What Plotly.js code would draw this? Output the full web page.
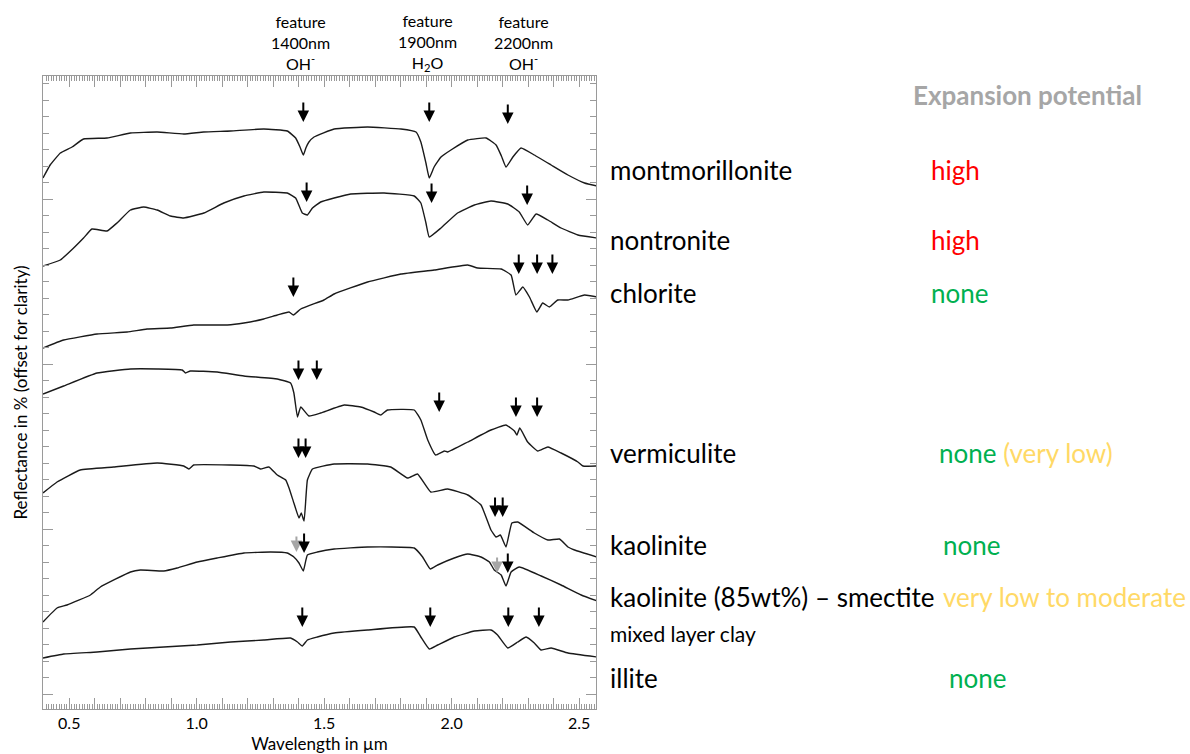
<!DOCTYPE html>
<html>
<head>
<meta charset="utf-8">
<script src="https://cdn.plot.ly/plotly-3.0.1.min.js"></script>
<style>html,body{margin:0;padding:0;background:#fff;}#chart{width:1190px;height:754px;}</style>
</head>
<body>
<div id="chart"></div>
<script>
// ---- Spectra (wavelength in µm, reflectance offset for clarity, arbitrary units) ----
const montWl = [0.397,0.425,0.465,0.511,0.556,0.648,0.740,0.845,0.949,1.027,1.133,1.263,1.355,1.388,1.405,1.418,1.428,1.440,1.460,1.539,1.670,1.801,1.860,1.879,1.899,1.912,1.931,1.958,1.997,2.063,2.135,2.174,2.195,2.213,2.240,2.272,2.324,2.390,2.456,2.521,2.570];
const montY  = [531,544,556,562,570,571,576,577,575,577,578,580,578,571,562,554,561,567,572,580,582,580,577,567,546,531,542,552,559,569,571,564,553,542,552,561,554,544,534,526,523];

const nontWl = [0.397,0.465,0.517,0.556,0.589,0.648,0.687,0.740,0.792,0.845,0.897,0.949,1.028,1.106,1.185,1.263,1.355,1.388,1.414,1.434,1.454,1.486,1.539,1.604,1.735,1.853,1.879,1.899,1.912,1.958,2.023,2.089,2.154,2.220,2.265,2.298,2.331,2.377,2.429,2.495,2.570];
const nontY  = [443,449,461,471,480,478,486,499,502,499,493,491,496,506,513,517,516,511,496,494,501,507,511,515,516,513,506,486,472,481,496,504,508,505,497,484,495,489,481,474,471];

const chlWl = [0.397,0.478,0.609,0.727,0.805,0.897,0.988,1.120,1.185,1.263,1.316,1.362,1.379,1.408,1.499,1.539,1.670,1.801,1.931,2.063,2.102,2.194,2.233,2.252,2.279,2.305,2.334,2.357,2.383,2.416,2.456,2.521,2.570];
const chlY  = [361,369,375,377,380,381,384,384,386,390,394,397,394,400,409,415,427,435,439,444,441,440,434,414,422,412,397,406,402,409,409,414,412];

const vermWl = [0.397,0.478,0.609,0.740,0.845,0.943,0.956,0.975,1.080,1.185,1.316,1.368,1.381,1.395,1.408,1.440,1.486,1.578,1.643,1.696,1.722,1.748,1.853,1.879,1.906,1.937,1.971,1.984,2.063,2.154,2.213,2.246,2.256,2.267,2.298,2.338,2.377,2.429,2.495,2.515,2.570];
const vermY  = [315,323,336,340,340,339,336,338,337,333,330,326,316,292,302,293,296,304,302,297,294,299,299,289,269,254,258,257,267,279,284,278,274,281,267,258,262,256,247,243,243];

const kaolWl = [0.397,0.452,0.543,0.674,0.845,0.949,0.969,0.988,1.133,1.224,1.250,1.283,1.316,1.349,1.362,1.381,1.401,1.410,1.421,1.434,1.454,1.539,1.670,1.761,1.827,1.866,1.918,1.984,2.063,2.115,2.154,2.174,2.191,2.213,2.236,2.259,2.324,2.377,2.423,2.456,2.482,2.570];
const kaolY  = [216,227,239,242,246,243,240,244,244,243,240,242,234,229,221,206,191,196,188,229,240,245,245,242,231,235,217,220,214,204,179,172,174,162,186,187,176,169,170,162,159,152];

const ksWl = [0.397,0.452,0.491,0.583,0.622,0.740,0.779,0.871,0.923,1.002,1.080,1.185,1.290,1.355,1.381,1.401,1.418,1.434,1.473,1.539,1.670,1.853,1.886,1.916,1.945,2.010,2.063,2.115,2.148,2.167,2.194,2.213,2.233,2.265,2.351,2.429,2.508,2.570];
const ksY  = [87,101,104,114,122,137,139,138,141,147,151,156,157,156,152,146,138,154,157,160,162,161,152,140,144,151,155,152,147,139,134,123,137,142,133,124,114,108];

const illWl = [0.397,0.478,0.609,0.740,0.871,1.002,1.133,1.263,1.368,1.395,1.414,1.434,1.473,1.539,1.670,1.853,1.879,1.912,1.945,2.010,2.089,2.154,2.180,2.220,2.259,2.292,2.324,2.351,2.390,2.456,2.570];
const illY  = [51,55,57,60,62,64,67,69,71,67,63,69,72,76,79,82,72,60,64,72,78,79,74,61,67,72,66,59,61,56,52];

// ---- Absorption-feature arrows (tip position) ----
const arrowWl = [1.418,1.912,2.220, 1.431,1.921,2.296, 1.379,2.263,2.335,2.395, 1.399,1.471,1.951,2.252,2.335, 1.399,1.427,2.170,2.200, 1.391,1.421,2.178,2.220, 1.414,1.916,2.222,2.342];
const arrowY  = [587,587,585, 507,506,504, 412,435,435,435, 329,329,297,292,292, 251,251,192,192, 157,156,136,136, 82,82,82,82];
const arrowGrey = [0,0,0, 0,0,0, 0,0,0,0, 0,0,0,0,0, 0,0,0,0, 1,0,1,0, 0,0,0,0];

// ---- Labels ----
const mineralNames = ['montmorillonite','nontronite','chlorite','vermiculite','kaolinite','kaolinite (85wt%) – smectite','illite'];
const mineralLabelY = [539,469,416,256,164,112,31];
const potentialText = [
  '<span style="color:#ff0000">high</span>',
  '<span style="color:#ff0000">high</span>',
  '<span style="color:#00b050">none</span>',
  '<span style="color:#00b050">none</span> <span style="color:#ffd966">(very low)</span>',
  '<span style="color:#00b050">none</span>',
  '<span style="color:#ffd966">very low to moderate</span>',
  '<span style="color:#00b050">none</span>'
];
const potentialX = [1.6022,1.6022,1.6022,1.6166,1.6239,1.6239,1.6347];
const featureLabels = ['feature<br>1400nm<br>OH<sup>-</sup>','feature<br>1900nm<br>H<sub>2</sub>O','feature<br>2200nm<br>OH<sup>-</sup>'];
const featureLabelX = [1.408,1.907,2.280];

const tickVals = [0.4,0.5,0.6,0.7,0.8,0.9,1.0,1.1,1.2,1.3,1.4,1.5,1.6,1.7,1.8,1.9,2.0,2.1,2.2,2.3,2.4,2.5];
const tickText = ['','0.5','','','','','1.0','','','','','1.5','','','','','2.0','','','','','2.5'];

const FONT = 'Lato, "Open Sans", sans-serif';
const spectra = [[montWl,montY],[nontWl,nontY],[chlWl,chlY],[vermWl,vermY],[kaolWl,kaolY],[ksWl,ksY],[illWl,illY]];
const traces = spectra.map((s,i) => ({
  x: s[0], y: s[1], type: 'scatter', mode: 'lines', name: mineralNames[i],
  line: {color: '#1a1a1a', width: 1.4, shape: 'spline', smoothing: 0.35},
  hoverinfo: 'skip', showlegend: false
}));

const annotations = [];
arrowWl.forEach((w,i) => {
  annotations.push({
    x: w, y: arrowY[i], xref: 'x', yref: 'y', text: '', showarrow: true,
    ax: 0, ay: arrowGrey[i] ? -17 : -21, axref: 'pixel', ayref: 'pixel',
    arrowhead: 2, arrowsize: 1.15, arrowwidth: 2, standoff: 0,
    arrowcolor: arrowGrey[i] ? '#a6a6a6' : '#000000'
  });
});
mineralNames.forEach((n,i) => {
  annotations.push({x: 1.0217, y: mineralLabelY[i], xref: 'paper', yref: 'y', text: n,
    showarrow: false, xanchor: 'left', yanchor: 'middle', font: {family: FONT, size: 26, color: '#000'}});
  annotations.push({x: potentialX[i], y: mineralLabelY[i], xref: 'paper', yref: 'y', text: potentialText[i],
    showarrow: false, xanchor: 'left', yanchor: 'middle', font: {family: FONT, size: 26}});
});
annotations.push({x: 1.0217, y: 76, xref: 'paper', yref: 'y', text: 'mixed layer clay',
  showarrow: false, xanchor: 'left', yanchor: 'middle', font: {family: FONT, size: 21, color: '#000'}});
annotations.push({x: 1.5696, y: 614, xref: 'paper', yref: 'y', text: '<b>Expansion potential</b>',
  showarrow: false, xanchor: 'left', yanchor: 'middle', font: {family: FONT, size: 26, color: '#a6a6a6'}});
featureLabels.forEach((t,i) => {
  annotations.push({x: featureLabelX[i], y: 1.0537, xref: 'x', yref: 'paper', text: t,
    showarrow: false, xanchor: 'center', yanchor: 'middle', align: 'center',
    font: {family: FONT, size: 16, color: '#000'}});
});

const axisGrey = '#9a9a9a';
const layout = {
  width: 1190, height: 754,
  margin: {l: 43, r: 594, t: 76, b: 45},
  paper_bgcolor: '#ffffff', plot_bgcolor: '#ffffff',
  font: {family: FONT, color: '#000'},
  showlegend: false,
  xaxis: {
    range: [0.397, 2.566], showgrid: false, zeroline: false,
    showline: true, linecolor: axisGrey, linewidth: 1, mirror: 'ticks',
    tickmode: 'array', tickvals: tickVals, ticktext: tickText,
    ticks: 'inside', ticklen: 11, tickcolor: axisGrey, tickwidth: 1,
    minor: {dtick: 0.01, tick0: 0, ticks: 'inside', ticklen: 5, tickcolor: axisGrey, tickwidth: 1, showgrid: false},
    tickfont: {family: FONT, size: 16, color: '#000'},
    title: {text: 'Wavelength in µm', font: {family: FONT, size: 17, color: '#000'}, standoff: 8}
  },
  yaxis: {
    range: [0, 633], showgrid: false, zeroline: false,
    showline: true, linecolor: axisGrey, linewidth: 1, mirror: 'ticks',
    tickmode: 'linear', tick0: 15, dtick: 165, showticklabels: false,
    ticks: 'inside', ticklen: 10, tickcolor: axisGrey, tickwidth: 1,
    minor: {dtick: 16.5, tick0: 15, ticks: 'inside', ticklen: 6, tickcolor: axisGrey, tickwidth: 1, showgrid: false},
    title: {text: 'Reflectance in % (offset for clarity)', font: {family: FONT, size: 17, color: '#000'}, standoff: 10}
  },
  annotations: annotations
};

Plotly.newPlot('chart', traces, layout, {displayModeBar: false, staticPlot: true});
</script>
</body>
</html>
